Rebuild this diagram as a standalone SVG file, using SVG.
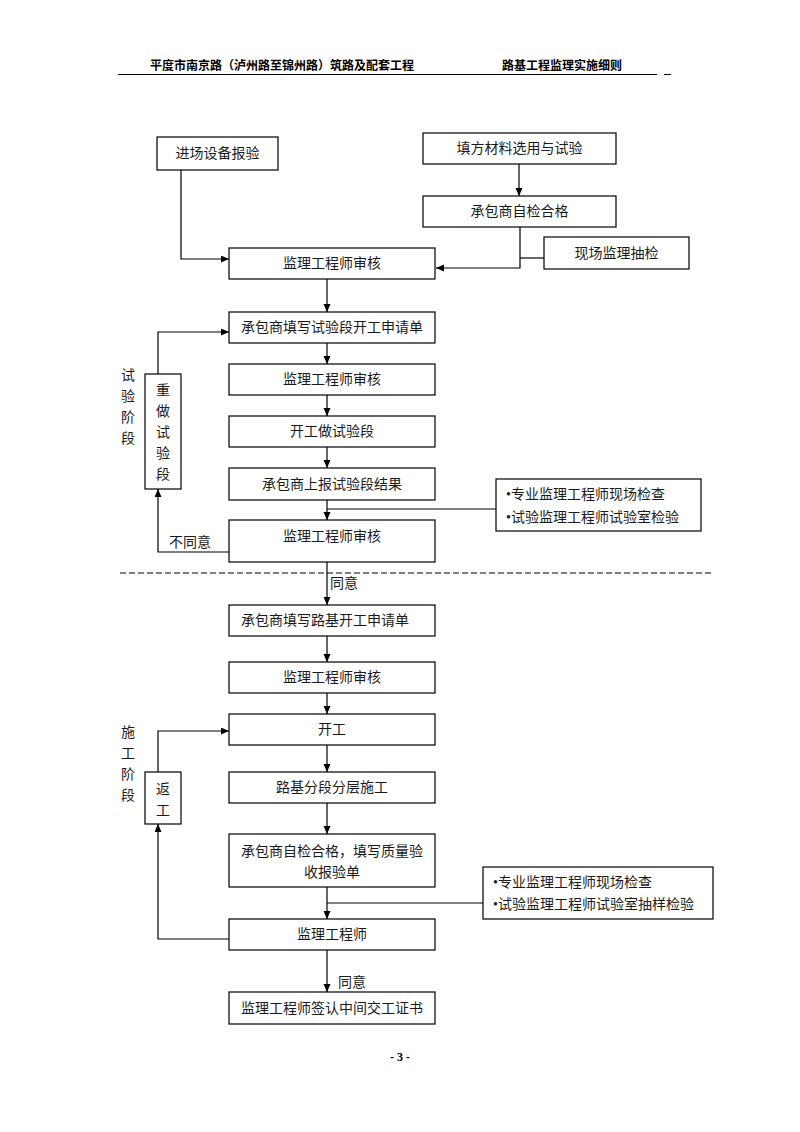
<svg xmlns="http://www.w3.org/2000/svg" width="800" height="1132" viewBox="0 0 800 1132">
<style>
.b{fill:#fff;stroke:#000;stroke-width:1.2}
.t{font-family:"Liberation Serif","Noto Sans CJK SC",serif;font-size:14px;fill:#1a1a1a}
.c{text-anchor:middle}
.h{font-family:"Liberation Serif","Noto Sans CJK SC",serif;font-size:12px;font-weight:bold;fill:#000}
.l{fill:none;stroke:#000;stroke-width:1.2}
.a{fill:none;stroke:#000;stroke-width:1.2;marker-end:url(#ah)}
</style>
<defs>
<marker id="ah" markerWidth="8" markerHeight="8" refX="8" refY="3.5" orient="auto" markerUnits="userSpaceOnUse">
<path d="M0,0 L8,3.5 L0,7 z" fill="#000"/>
</marker>
</defs>
<rect width="800" height="1132" fill="#fff"/>
<g id="header">
<text class="h" x="150" y="70">平度市南京路（泸州路至锦州路）筑路及配套工程</text>
<text class="h" x="502" y="70">路基工程监理实施细则</text>
<line x1="118" y1="74.5" x2="657" y2="74.5" stroke="#000" stroke-width="1"/>
<line x1="664" y1="74.5" x2="671" y2="74.5" stroke="#000" stroke-width="1"/>
</g>
<g id="connectors">
<polyline class="a" points="181,170 181,259 229,259"/>
<polyline class="a" points="519,164 519,196"/>
<polyline class="a" points="520,227 520,268 436,268"/>
<polyline class="l" points="544,258 520,258"/>
<polyline class="a" points="327,279 327,312"/>
<polyline class="a" points="327,343 327,364"/>
<polyline class="a" points="327,395 327,416"/>
<polyline class="a" points="327,447 327,468"/>
<polyline class="a" points="327,500 327,520"/>
<polyline class="l" points="327,509 496,509"/>
<polyline class="a" points="229,552 158,552 158,489"/>
<polyline class="a" points="158,374 158,332 229,332"/>
<polyline class="a" points="327,562 327,605"/>
<polyline class="a" points="327,636 327,662"/>
<polyline class="a" points="327,693 327,714"/>
<polyline class="a" points="327,745 327,772"/>
<polyline class="a" points="327,803 327,834"/>
<polyline class="a" points="327,887 327,919"/>
<polyline class="l" points="327,903 483,903"/>
<polyline class="a" points="327,950 327,992"/>
<polyline class="a" points="229,939 158,939 158,824"/>
<polyline class="a" points="158,772 158,731 229,731"/>
<line x1="120" y1="573" x2="712" y2="573" stroke="#000" stroke-width="1" stroke-dasharray="6,3"/>
<text class="t" x="169" y="547">不同意</text>
<text class="t" x="330" y="588">同意</text>
<text class="t" x="338" y="987">同意</text>
</g>
<g id="n1"><rect class="b" x="157" y="137" width="121" height="33"/><text class="t c" x="217.5" y="158">进场设备报验</text></g>
<g id="n2"><rect class="b" x="423" y="133" width="193" height="31"/><text class="t c" x="519.5" y="153">填方材料选用与试验</text></g>
<g id="n3"><rect class="b" x="423" y="196" width="193" height="31"/><text class="t c" x="519.5" y="216">承包商自检合格</text></g>
<g id="n4"><rect class="b" x="544" y="237" width="145" height="32"/><text class="t c" x="616.5" y="258">现场监理抽检</text></g>
<g id="n5"><rect class="b" x="229" y="248" width="206" height="31"/><text class="t c" x="332" y="268">监理工程师审核</text></g>
<g id="n6"><rect class="b" x="229" y="312" width="206" height="31"/><text class="t c" x="332" y="332">承包商填写试验段开工申请单</text></g>
<g id="n7"><rect class="b" x="229" y="364" width="206" height="31"/><text class="t c" x="332" y="384">监理工程师审核</text></g>
<g id="n8"><rect class="b" x="229" y="416" width="206" height="31"/><text class="t c" x="332" y="436">开工做试验段</text></g>
<g id="n9"><rect class="b" x="229" y="468" width="206" height="32"/><text class="t c" x="332" y="489">承包商上报试验段结果</text></g>
<g id="n10"><rect class="b" x="229" y="520" width="206" height="42"/><text class="t c" x="332" y="541">监理工程师审核</text></g>
<g id="n11"><rect class="b" x="496" y="479" width="205" height="52"/><text class="t" x="506" y="499">•专业监理工程师现场检查</text><text class="t" x="506" y="522">•试验监理工程师试验室检验</text></g>
<g id="n12"><rect class="b" x="145" y="374" width="36" height="115"/>
<text class="t c" x="163" y="395">重</text><text class="t c" x="163" y="416">做</text><text class="t c" x="163" y="437">试</text><text class="t c" x="163" y="458">验</text><text class="t c" x="163" y="479">段</text></g>
<g id="label-trial">
<text class="t c" x="128" y="380">试</text><text class="t c" x="128" y="401">验</text><text class="t c" x="128" y="422">阶</text><text class="t c" x="128" y="443">段</text></g>
<g id="n13"><rect class="b" x="229" y="605" width="206" height="31"/><text class="t c" x="325" y="625">承包商填写路基开工申请单</text></g>
<g id="n14"><rect class="b" x="229" y="662" width="206" height="31"/><text class="t c" x="332" y="682">监理工程师审核</text></g>
<g id="n15"><rect class="b" x="229" y="714" width="206" height="31"/><text class="t c" x="332" y="734">开工</text></g>
<g id="n16"><rect class="b" x="229" y="772" width="206" height="31"/><text class="t c" x="332" y="792">路基分段分层施工</text></g>
<g id="n17"><rect class="b" x="229" y="834" width="206" height="53"/><text class="t c" x="332" y="856">承包商自检合格，填写质量验</text><text class="t c" x="332" y="877">收报验单</text></g>
<g id="n18"><rect class="b" x="483" y="867" width="230" height="52"/><text class="t" x="493" y="887">•专业监理工程师现场检查</text><text class="t" x="493" y="909">•试验监理工程师试验室抽样检验</text></g>
<g id="n19"><rect class="b" x="229" y="919" width="206" height="31"/><text class="t c" x="332" y="939">监理工程师</text></g>
<g id="n20"><rect class="b" x="229" y="992" width="206" height="32"/><text class="t c" x="332" y="1013">监理工程师签认中间交工证书</text></g>
<g id="n21"><rect class="b" x="145" y="772" width="36" height="52"/><text class="t c" x="163" y="794">返</text><text class="t c" x="163" y="815">工</text></g>
<g id="label-build">
<text class="t c" x="128" y="737">施</text><text class="t c" x="128" y="758">工</text><text class="t c" x="128" y="779">阶</text><text class="t c" x="128" y="800">段</text></g>
<g id="footer"><text class="h c" x="400" y="1061">- 3 -</text></g>
</svg>
